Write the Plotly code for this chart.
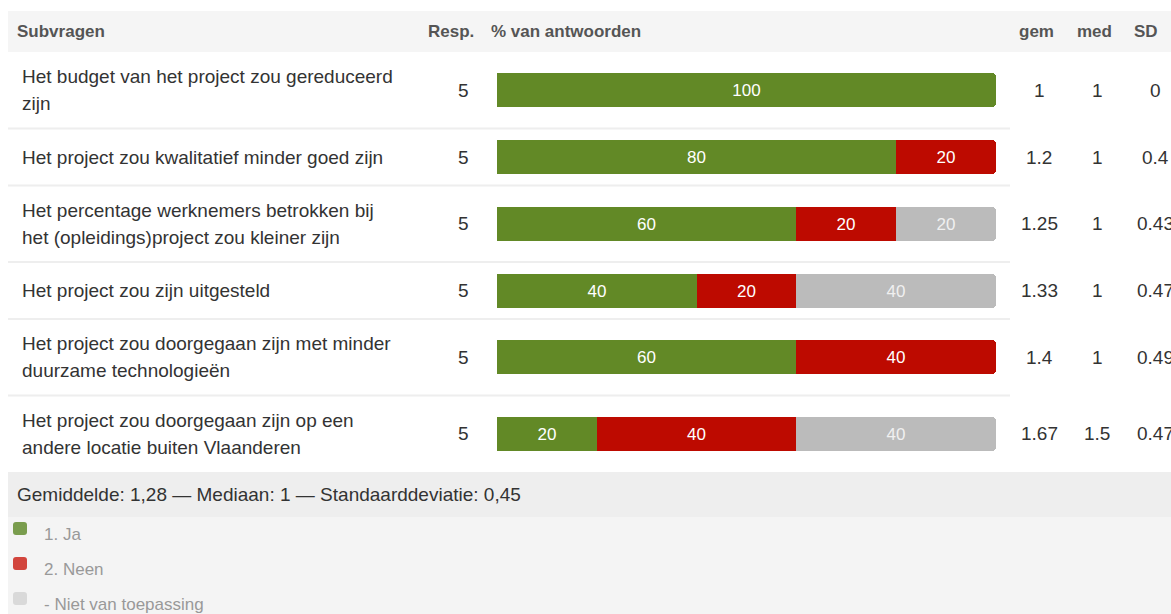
import plotly.graph_objects as go

# ---- data ----
questions = [
    "Het budget van het project zou gereduceerd<br>zijn",
    "Het project zou kwalitatief minder goed zijn",
    "Het percentage werknemers betrokken bij<br>het (opleidings)project zou kleiner zijn",
    "Het project zou zijn uitgesteld",
    "Het project zou doorgegaan zijn met minder<br>duurzame technologieën",
    "Het project zou doorgegaan zijn op een<br>andere locatie buiten Vlaanderen",
]
resp = [5, 5, 5, 5, 5, 5]
ja = [100, 80, 60, 40, 60, 20]
neen = [0, 20, 20, 20, 40, 40]
nvt = [0, 0, 20, 40, 0, 40]
gem = ["1", "1.2", "1.25", "1.33", "1.4", "1.67"]
med = ["1", "1", "1", "1", "1", "1.5"]
sd = ["0", "0.4", "0.43", "0.47", "0.49", "0.47"]
series_names = ["1. Ja", "2. Neen", "- Niet van toepassing"]
summary = "Gemiddelde: 1,28 — Mediaan: 1 — Standaarddeviatie: 0,45"

# ---- layout constants (pixels) ----
W, H = 1171, 614
FONT = "Arial, 'Liberation Sans', sans-serif"
HEAD_TOP, HEAD_BOT = 11, 52
ROW_TWO, ROW_ONE = 76.5, 57
BAR_H = 34
BAR_X0, BAR_X1 = 497, 996
FOOT_BOT = 517

bar_colors = ["#628926", "#bd0a00", "#bbbbbb"]
bar_text_colors = ["#ffffff", "#ffffff", "#f0f0f0"]
legend_colors = ["#7a9d4e", "#d2453d", "#d9d9d9"]

# row geometry derived from the number of label lines
row_tops, row_centers = [], []
y = HEAD_BOT
for q in questions:
    h = ROW_TWO if "<br>" in q else ROW_ONE
    row_tops.append(y)
    row_centers.append(y + h / 2)
    y += h
table_bottom = y

fig = go.Figure()

# stacked horizontal bars on their own x axis (0-100 %)
for vals, name, col, tcol in zip([ja, neen, nvt], series_names, bar_colors, bar_text_colors):
    xs = [v if v > 0 else None for v in vals]
    fig.add_trace(go.Bar(
        x=xs, y=row_centers, orientation="h", name=name,
        width=BAR_H, xaxis="x2", yaxis="y",
        marker=dict(color=col, line=dict(width=0)),
        text=[str(v) if v > 0 else "" for v in vals],
        textposition="inside", insidetextanchor="middle", textangle=0,
        constraintext="none",
        textfont=dict(family=FONT, size=17, color=tcol),
        hoverinfo="skip", showlegend=False,
    ))

shapes = []
annotations = []

def txt(x, y, s, size=19, color="#333333", anchor="left", bold=False):
    if bold:
        s = "<b>" + s + "</b>"
    annotations.append(dict(
        x=x, y=y, xref="x", yref="y", text=s, showarrow=False,
        xanchor=anchor, yanchor="middle", borderpad=0,
        font=dict(family=FONT, size=size, color=color),
    ))

def rounded_rect(x0, y0, x1, y1, r):
    return (f"M{x0+r},{y0} L{x1-r},{y0} Q{x1},{y0} {x1},{y0+r} "
            f"L{x1},{y1-r} Q{x1},{y1} {x1-r},{y1} L{x0+r},{y1} "
            f"Q{x0},{y1} {x0},{y1-r} L{x0},{y0+r} Q{x0},{y0} {x0+r},{y0} Z")

# header band
shapes.append(dict(type="rect", xref="x", yref="y", x0=8, x1=W, y0=HEAD_TOP, y1=HEAD_BOT,
                   fillcolor="#f5f5f5", line=dict(width=0), layer="below"))
hy = (HEAD_TOP + HEAD_BOT) / 2
txt(16, hy, "Subvragen", 17, "#555555", bold=True)
txt(451, hy, "Resp.", 17, "#555555", anchor="center", bold=True)
txt(490, hy, "% van antwoorden", 17, "#555555", bold=True)
txt(1036, hy, "gem", 17, "#555555", anchor="center", bold=True)
txt(1094, hy, "med", 17, "#555555", anchor="center", bold=True)
txt(1146, hy, "SD", 17, "#555555", anchor="center", bold=True)

# table rows
for i, q in enumerate(questions):
    cy = row_centers[i]
    lines = q.split("<br>")
    n = len(lines)
    for k, line in enumerate(lines):
        txt(21, cy + (k - (n - 1) / 2) * 27, line)
    txt(463, cy, str(resp[i]), anchor="center")
    txt(1039, cy, gem[i], anchor="center")
    txt(1097, cy, med[i], anchor="center")
    txt(1155, cy, sd[i], anchor="center")
    if i > 0:
        shapes.append(dict(type="line", xref="x", yref="y", x0=8, x1=1010,
                           y0=row_tops[i], y1=row_tops[i],
                           line=dict(color="#eeeeee", width=2), layer="below"))

# summary band
shapes.append(dict(type="rect", xref="x", yref="y", x0=8, x1=W, y0=table_bottom, y1=FOOT_BOT,
                   fillcolor="#eeeeee", line=dict(width=0), layer="below"))
txt(16, (table_bottom + FOOT_BOT) / 2, summary, 19, "#333333")

# legend area
shapes.append(dict(type="rect", xref="x", yref="y", x0=8, x1=W, y0=FOOT_BOT, y1=H + 2,
                   fillcolor="#f4f4f4", line=dict(width=0), layer="below"))
for k, (name, col) in enumerate(zip(series_names, legend_colors)):
    ly = 534 + k * 35
    shapes.append(dict(type="path", xref="x", yref="y",
                       path=rounded_rect(13, ly - 12, 27, ly + 1, 3),
                       fillcolor=col, line=dict(width=0), layer="above"))
    txt(43, ly, name, 17, "#999999")

fig.update_layout(
    width=W, height=H, autosize=False,
    margin=dict(l=0, r=0, t=0, b=0),
    paper_bgcolor="#ffffff", plot_bgcolor="rgba(0,0,0,0)",
    barmode="stack", bargap=0, barcornerradius=4,
    xaxis=dict(range=[0, W], domain=[0, 1], visible=False, fixedrange=True),
    yaxis=dict(range=[H, 0], domain=[0, 1], visible=False, fixedrange=True),
    xaxis2=dict(range=[0, 100], domain=[BAR_X0 / W, BAR_X1 / W],
                anchor="y", visible=False, fixedrange=True),
    shapes=shapes, annotations=annotations,
    showlegend=False,
)

fig.write_html("out.html")
